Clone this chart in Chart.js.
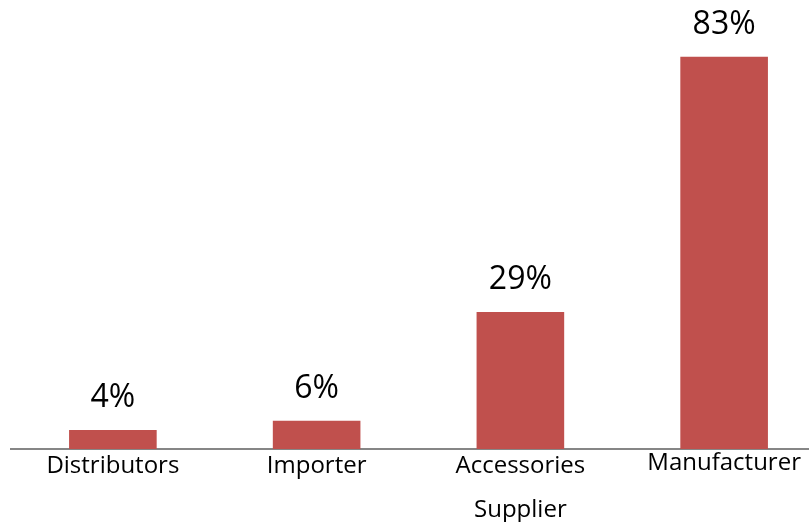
<!DOCTYPE html>
<html>
<head>
<meta charset="utf-8">
<script src="https://cdn.jsdelivr.net/npm/chart.js@4/dist/chart.umd.min.js"></script>
<style>
  html, body { margin: 0; padding: 0; background: #fff; overflow: hidden; }
  #wrap { width: 826px; height: 522px; position: relative; }
</style>
</head>
<body>
<div id="wrap"><canvas id="supplier-chart"></canvas></div>
<script>
const categories = ['Distributors', 'Importer', ['Accessories', 'Supplier'], 'Manufacturer'];
const shares = [4, 6, 29, 83];

// Percent labels above each bar
const valueLabels = {
  id: 'valueLabels',
  afterDatasetsDraw(chart) {
    const { ctx } = chart;
    const meta = chart.getDatasetMeta(0);
    ctx.save();
    ctx.font = '32px "Open Sans"';
    ctx.fillStyle = '#000';
    ctx.textAlign = 'center';
    ctx.textBaseline = 'alphabetic';
    meta.data.forEach((bar, i) => {
      ctx.fillText(`${shares[i]}%`, bar.x, bar.y - 23);
    });
    ctx.restore();
  }
};

const ctx = document.getElementById('supplier-chart').getContext('2d');
new Chart(ctx, {
  type: 'bar',
  data: {
    labels: categories,
    datasets: [{
      data: shares,
      backgroundColor: '#C0504D',
      categoryPercentage: 1,
      barPercentage: 0.43,
    }],
  },
  options: {
    responsive: true,
    maintainAspectRatio: false,
    animation: false,
    layout: { padding: { left: 11, right: 0, top: 0, bottom: 0 } },
    plugins: {
      legend: { display: false },
      tooltip: { enabled: false },
    },
    scales: {
      x: {
        grid: { display: false },
        border: { color: '#868686', width: 2 },
        ticks: {
          color: '#000',
          padding: -12,
          maxRotation: 0,
          autoSkip: false,
          font: (c) => ({ family: 'Open Sans', size: 24, lineHeight: c.index === 3 ? 1.5 : 1.8 }),
        },
        afterFit(scale) { scale.height = 73; },
      },
      y: {
        display: false,
        min: 0,
        max: 95,
      },
    },
  },
  plugins: [valueLabels],
});
</script>
</body>
</html>
